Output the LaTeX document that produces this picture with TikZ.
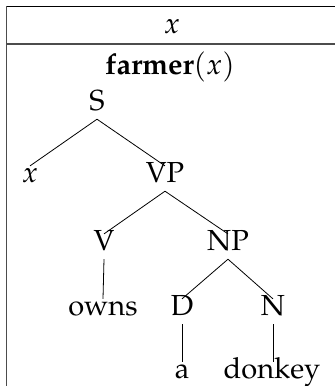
\documentclass[tikz,border=0pt]{standalone}
\usepackage[T1]{fontenc}
\usepackage{mathpazo}
\begin{document}
\begin{tikzpicture}[x=1pt,y=-1pt,
  lbl/.style={anchor=base,inner xsep=0pt,inner ysep=9pt,text height=0.69em,text depth=0pt,font=\fontsize{29}{34}\selectfont},
  hdr/.style={anchor=base,inner sep=0pt,font=\fontsize{29}{34}\selectfont},
  edge/.style={draw=black,line width=0.8pt},
  frame/.style={line width=1.3pt}]
\useasboundingbox (0,0) rectangle (335,386);
% frame
\draw[frame,black] (6,6.5) -- (335,6.5);
\draw[frame,black!70] (6.5,6) -- (6.5,386);
\draw[frame,black!70] (6,44) -- (335,44);
% header texts
\node[hdr] (hx) at (172,33) {$x$};
\node[hdr] (farmer) at (170,74) {\textbf{farmer}$(x)$};
% tree
\node[lbl] (S) at (97,110) {S};
\node[lbl] (x) at (30,182) {$x$};
\node[lbl] (VP) at (165,182) {VP};
\node[lbl] (V) at (104,250) {V};
\node[lbl] (NP) at (228,250) {NP};
\node[lbl] (owns) at (103,315) {owns};
\node[lbl] (D) at (182,315) {D};
\node[lbl] (N) at (273,315) {N};
\node[lbl] (a) at (182,378) {a};
\node[lbl] (donkey) at (272,378) {donkey};
\draw[edge] (S.south) -- (x.north);
\draw[edge] (S.south) -- (VP.north);
\draw[edge] (VP.south) -- (V.north);
\draw[edge] (VP.south) -- (NP.north);
\draw[edge] (V.south) -- (owns.north);
\draw[edge] (NP.south) -- (D.north);
\draw[edge] (NP.south) -- (N.north);
\draw[edge] (D.south) -- (a.north);
\draw[edge] (N.south-|N) -- (N.south|-donkey.north);
\end{tikzpicture}
\end{document}
